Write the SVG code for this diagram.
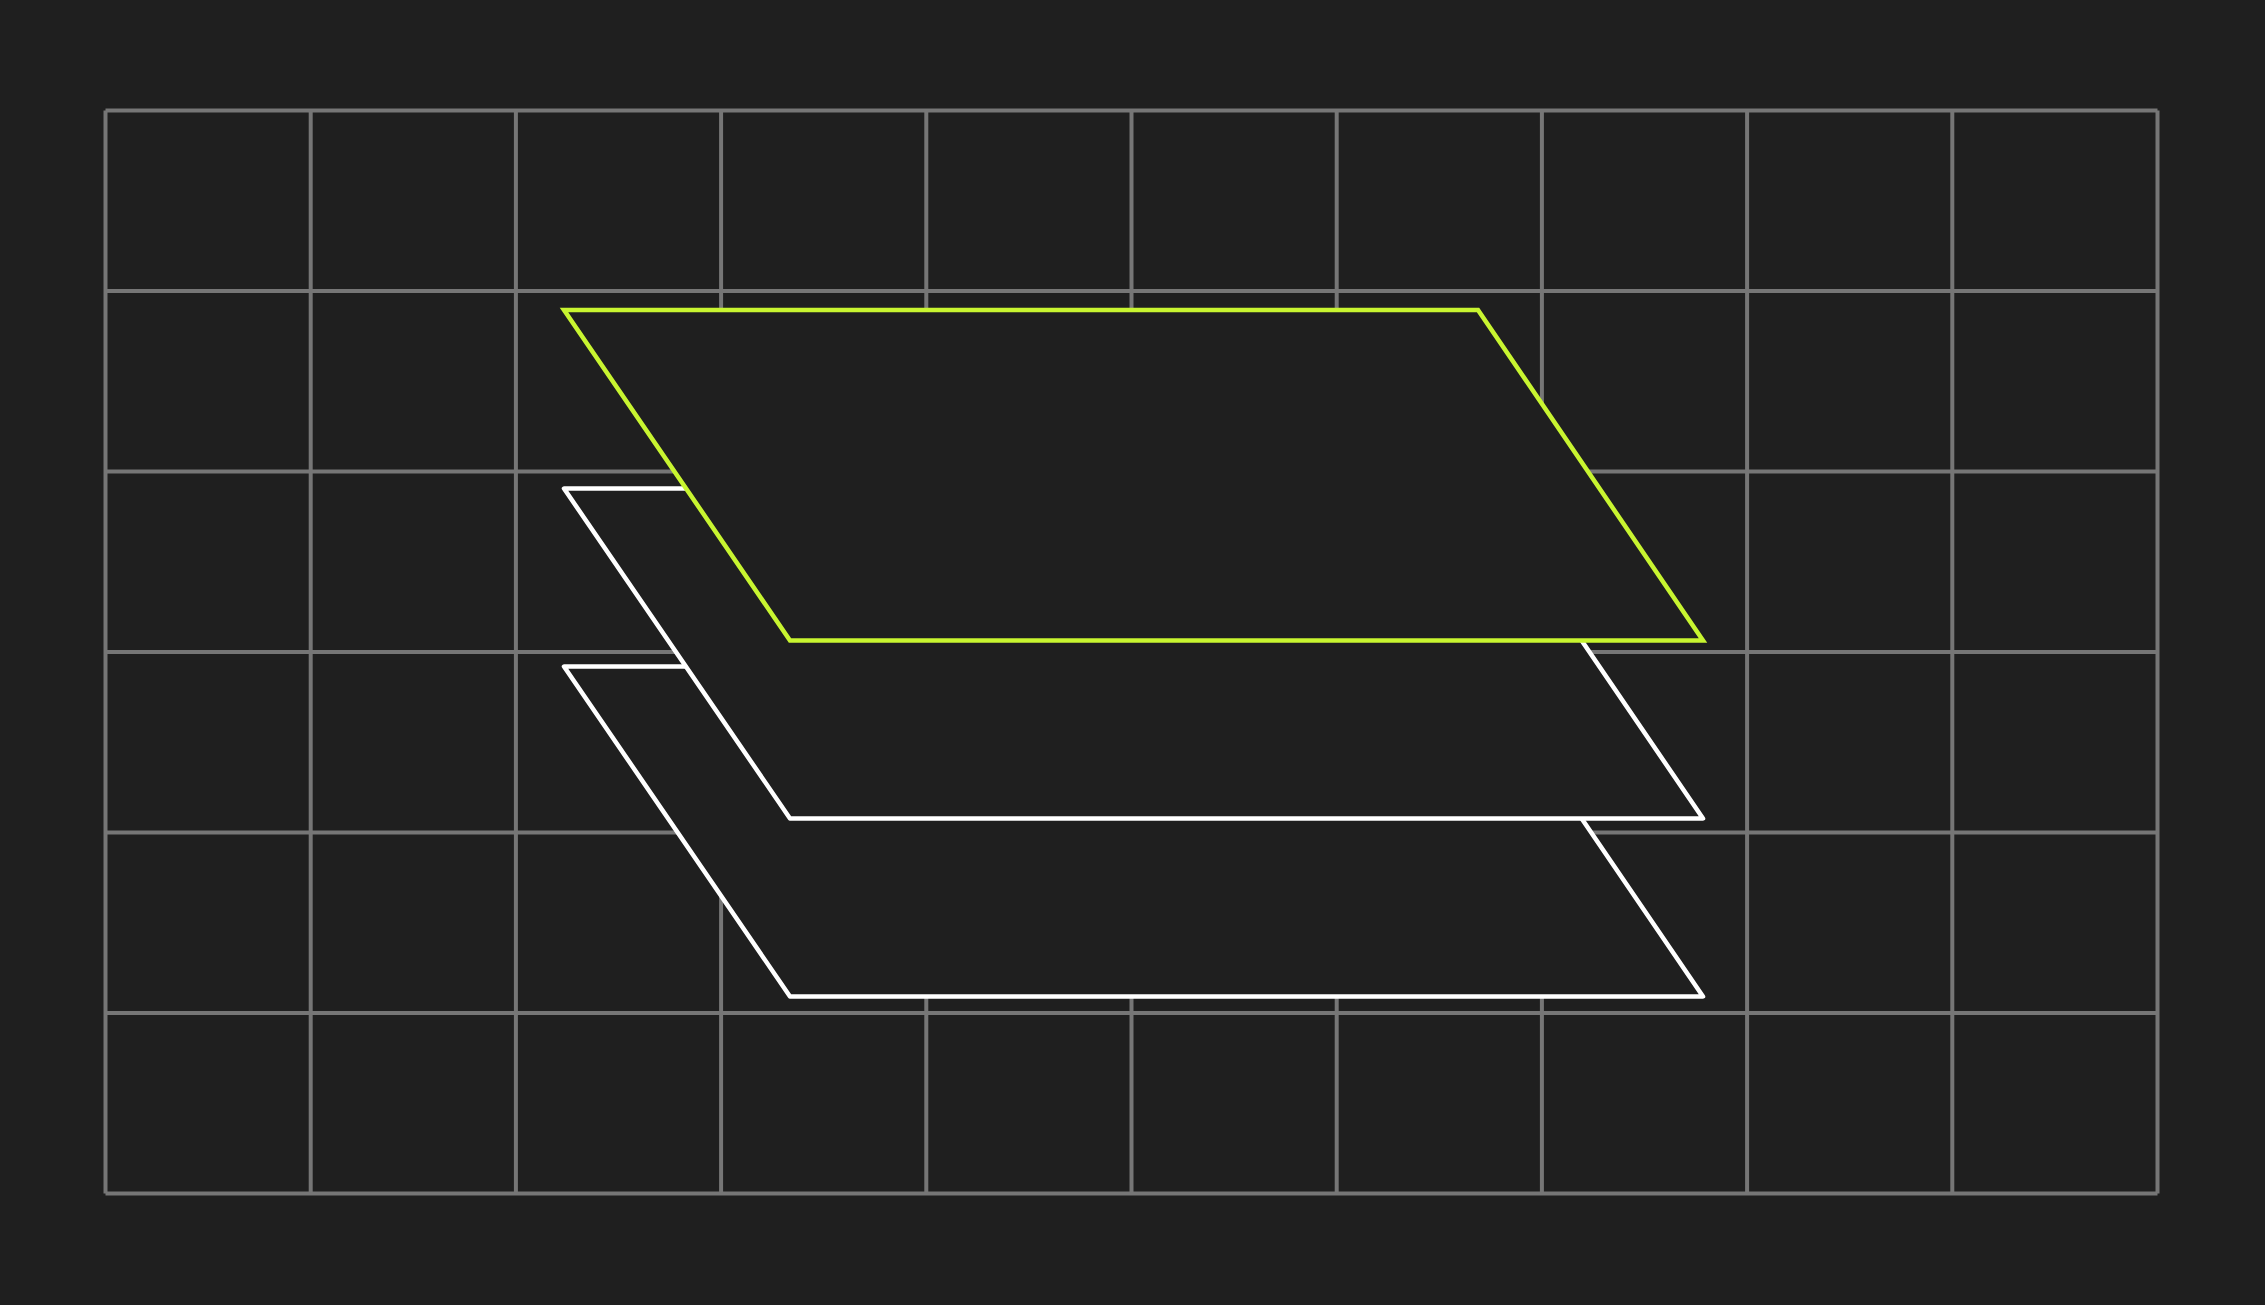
<svg xmlns="http://www.w3.org/2000/svg" width="2265" height="1305" viewBox="0 0 2265 1305">
<style>
.grid{stroke:#767676;stroke-width:4;fill:none}
.layer{fill:#1f1f1f;stroke:#ffffff;stroke-width:4.5;stroke-linejoin:round}
.top{fill:#1f1f1f;stroke:#c8f530;stroke-width:4.5;stroke-linejoin:miter}
</style>
<rect x="0" y="0" width="2265" height="1305" fill="#1f1f1f"/>
<g id="grid" class="grid">
<path d="M105.5 110.5V1193.5M310.7 110.5V1193.5M515.9 110.5V1193.5M721.1 110.5V1193.5M926.3 110.5V1193.5M1131.5 110.5V1193.5M1336.7 110.5V1193.5M1541.9 110.5V1193.5M1747.1 110.5V1193.5M1952.3 110.5V1193.5M2157.5 110.5V1193.5"/>
<path d="M105.5 110.5H2157.5M105.5 291H2157.5M105.5 471.5H2157.5M105.5 652H2157.5M105.5 832.5H2157.5M105.5 1013H2157.5M105.5 1193.5H2157.5"/>
</g>
<g id="layer3"><polygon class="layer" points="564,666.5 1478,666.5 1703,996.5 790,996.5"/></g>
<g id="layer2"><polygon class="layer" points="564,488.5 1478,488.5 1703,818.5 790,818.5"/></g>
<g id="layer1"><polygon class="top" points="564,310 1478,310 1703,640.5 790,640.5"/></g>
</svg>
